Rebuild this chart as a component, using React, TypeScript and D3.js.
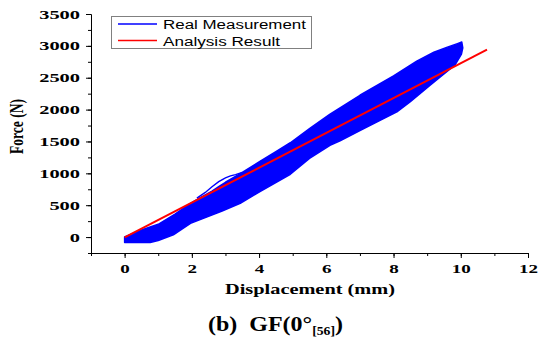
import { useEffect, useRef } from 'react'
import * as d3 from 'd3'

// upper edge of the blue hysteresis band (displacement mm, force N)
const upperD = [0, 0.5, 1.0, 1.5, 1.96, 2.25, 2.6, 2.8, 3.0, 3.44, 4.0, 4.5, 4.93, 5.5, 6.1, 7.0, 8.0, 8.69, 9.2, 9.6, 9.9, 10.03]
const upperF = [0, 110, 200, 360, 530, 620, 720, 790, 860, 995, 1180, 1340, 1480, 1700, 1925, 2225, 2530, 2760, 2900, 2980, 3035, 3060]
// right end and lower edge, from the right back to the origin
const lowerD = [10.06, 10.02, 9.83, 9.4, 9.09, 8.5, 8.1, 7.6, 7.0, 6.41, 6.11, 5.5, 4.93, 4.0, 3.44, 2.9, 2.4, 1.96, 1.45, 1.0, 0.76, 0]
const lowerF = [2970, 2870, 2700, 2515, 2385, 2125, 1965, 1830, 1670, 1510, 1440, 1235, 985, 705, 530, 410, 305, 215, 35, -55, -85, -85]
// first loading path that leaves the band around 2.5 mm
const bumpD = [2.15, 2.4, 2.6, 2.8, 3.0, 3.15, 3.3, 3.5]
const bumpF = [610, 700, 790, 870, 930, 960, 980, 1015]
// analysis result (straight line)
const fitD = [0, 10.78]
const fitF = [-5, 2940]

const xTicks = [0, 2, 4, 6, 8, 10, 12]
const yTicks = [0, 500, 1000, 1500, 2000, 2500, 3000, 3500]
const legendLabels = ['Real Measurement', 'Analysis Result']

export default function App() {
  const svgRef = useRef<SVGSVGElement>(null)

  useEffect(() => {
    if (!svgRef.current) return
    const svg = d3.select(svgRef.current)
    svg.selectAll('*').remove()

    const x = d3.scaleLinear().domain([-1, 12]).range([91, 528])
    const y = d3.scaleLinear().domain([-250, 3500]).range([253, 14])
    const serif = '"Liberation Serif", "Times New Roman", serif'
    const sans = '"Liberation Sans", Arial, sans-serif'

    // band
    const band: [number, number][] = [
      ...upperD.map((d, i) => [d, upperF[i]] as [number, number]),
      ...lowerD.map((d, i) => [d, lowerF[i]] as [number, number]),
    ]
    const line = d3.line<[number, number]>().x(d => x(d[0])).y(d => y(d[1]))
    svg.append('path')
      .attr('d', line(band) + 'Z')
      .style('fill', '#0000ff')
      .style('stroke', '#0000ff')
      .style('stroke-width', 1.5)
      .style('stroke-linejoin', 'round')

    svg.append('path')
      .attr('d', line(bumpD.map((d, i) => [d, bumpF[i]])))
      .style('fill', 'none')
      .style('stroke', '#0000ff')
      .style('stroke-width', 1.4)

    svg.append('path')
      .attr('d', line(fitD.map((d, i) => [d, fitF[i]])))
      .style('fill', 'none')
      .style('stroke', '#ff0000')
      .style('stroke-width', 2)

    // axes: minor ticks first, then major with labels
    const xMinor = d3.range(-1, 13, 1)
    const yMinor = d3.range(-250, 3501, 250)
    const fmt = d3.format('d')

    svg.append('g')
      .attr('transform', `translate(0,253)`)
      .call(d3.axisBottom(x).tickValues(xMinor).tickSize(3).tickSizeOuter(0).tickFormat(() => ''))
    const gx = svg.append('g')
      .attr('transform', `translate(0,253)`)
      .call(d3.axisBottom(x).tickValues(xTicks).tickSize(5).tickSizeOuter(0).tickFormat(fmt as any))
    gx.selectAll('text')
      .attr('y', 20).attr('dy', 0)
      .attr('textLength', (d: any) => String(d).length * 9.5)
      .attr('lengthAdjust', 'spacingAndGlyphs')

    svg.append('g')
      .attr('transform', `translate(91,0)`)
      .call(d3.axisLeft(y).tickValues(yMinor).tickSize(3).tickSizeOuter(0).tickFormat(() => ''))
    const gy = svg.append('g')
      .attr('transform', `translate(91,0)`)
      .call(d3.axisLeft(y).tickValues(yTicks).tickSize(5).tickSizeOuter(0).tickFormat(fmt as any))
    gy.selectAll('text')
      .attr('x', -11)
      .attr('textLength', (d: any) => String(d).length * 10.2)
      .attr('lengthAdjust', 'spacingAndGlyphs')

    svg.selectAll('.tick text')
      .style('font-family', serif)
      .style('font-weight', 'bold')
      .style('font-size', '12.5px')
      .style('fill', '#000')
    svg.selectAll('.domain, .tick line').style('stroke', '#000')

    // axis titles
    svg.append('text')
      .attr('x', 225).attr('y', 294)
      .attr('textLength', 170).attr('lengthAdjust', 'spacingAndGlyphs')
      .style('font-family', serif).style('font-weight', 'bold').style('font-size', '15.5px')
      .text('Displacement (mm)')

    svg.append('text')
      .attr('transform', 'translate(22.5,126.5) scale(1.43,1) rotate(-90)')
      .attr('text-anchor', 'middle')
      .style('font-family', serif).style('font-weight', 'bold').style('font-size', '13.5px')
      .text('Force (N)')

    // caption
    const cap = svg.append('text')
      .attr('x', 208).attr('y', 331)
      .attr('textLength', 135).attr('lengthAdjust', 'spacingAndGlyphs')
      .style('font-family', serif).style('font-weight', 'bold').style('font-size', '21px')
    cap.append('tspan').text('(b)\u00a0\u00a0GF(0°')
    cap.append('tspan').attr('dy', 4).style('font-size', '12px').text('[56]')
    cap.append('tspan').attr('dy', -4).text(')')

    // legend
    const lg = svg.append('g')
    lg.append('rect')
      .attr('x', 111.5).attr('y', 16.5).attr('width', 200).attr('height', 32)
      .style('fill', '#fff').style('stroke', '#808080').style('stroke-width', 1)
    const legendColors = ['#0000ff', '#ff0000']
    const legendWidths = [143, 117]
    legendLabels.forEach((label, i) => {
      const yy = 24 + i * 16.5
      lg.append('line')
        .attr('x1', 118).attr('x2', 157).attr('y1', yy).attr('y2', yy)
        .style('stroke', legendColors[i]).style('stroke-width', 1.6)
      lg.append('text')
        .attr('x', 163).attr('y', yy + 5)
        .attr('textLength', legendWidths[i]).attr('lengthAdjust', 'spacingAndGlyphs')
        .style('font-family', sans).style('font-size', '12px')
        .text(label)
    })
  }, [])

  return (
    <div style={{ position: 'absolute', left: 0, top: 0 }}>
      <svg ref={svgRef} width={539} height={341} style={{ display: 'block', background: '#fff' }}></svg>
    </div>
  )
}
